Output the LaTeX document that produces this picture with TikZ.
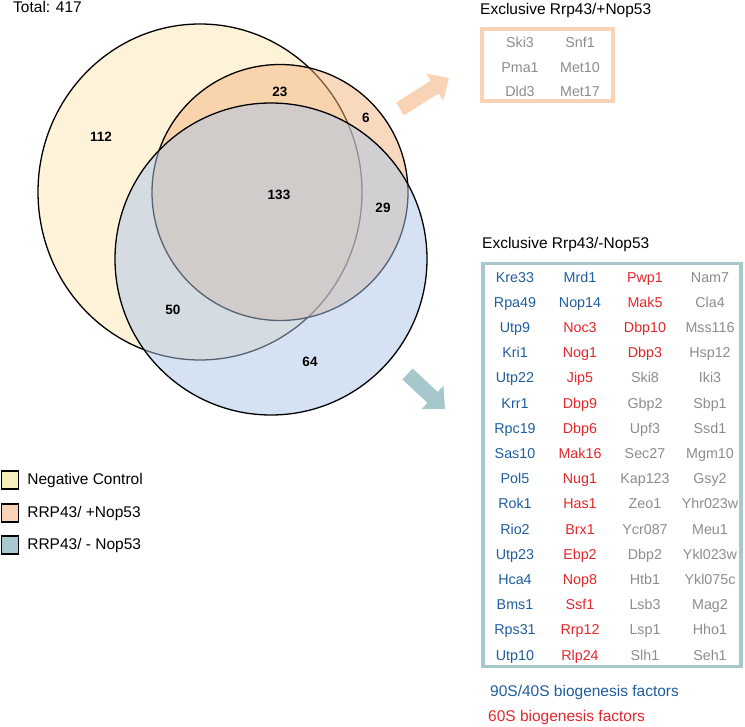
\documentclass[tikz,border=0pt]{standalone}
\usepackage{fontspec}
\setmainfont{Liberation Sans}
\usetikzlibrary{arrows.meta,positioning}
\definecolor{negfill}{HTML}{FDE7B3}
\definecolor{plusfill}{HTML}{F3B37D}
\definecolor{minusfill}{HTML}{ABC5E9}
\definecolor{negkey}{HTML}{F7EFBA}
\definecolor{pluskey}{HTML}{FAD2B6}
\definecolor{minuskey}{HTML}{A8C9D0}
\definecolor{plusline}{HTML}{F9D3B5}
\definecolor{minusline}{HTML}{A6C8CD}
\definecolor{bio40}{HTML}{1F5D9E}
\definecolor{bio60}{HTML}{E3262A}
\definecolor{other}{HTML}{8C8C8C}
\begin{document}
\begin{tikzpicture}[x=1pt, y=-1pt,
  every node/.style={font=\fontsize{15.5}{18}\selectfont, inner sep=0pt, text height=11pt, text depth=3pt},
  num/.style={font=\fontsize{13.5}{15}\selectfont\bfseries, text height=10pt, text depth=0pt},
  gene/.style={font=\fontsize{14.3}{17}\selectfont, text height=10.2pt, text depth=0pt},
  venn/.style={draw, line width=1.3pt, fill opacity=0.5},
  key/.style={draw, line width=1.3pt, minimum width=17pt, minimum height=18pt, text height=, text depth=},
  genebox/.style={draw, line width=3.5pt},
  bigarrow/.style={line width=15pt, -{Triangle[width=31pt,length=17pt]}}]
\useasboundingbox (0,0) rectangle (745,727);

% venn diagram
\draw[venn, fill=negfill] (200,192) ellipse [x radius=162pt, y radius=168pt];
\draw[venn, fill=plusfill] (280,192.5) circle [radius=128pt];
\draw[venn, fill=minusfill] (271,259) circle [radius=156pt];

\node[anchor=west] (total) at (13,9) {Total: 417};
\node[num] (n112) at (101,137) {112};
\node[num] (n23) at (280,92) {23};
\node[num] (n6) at (366,118) {6};
\node[num] (n133) at (279,195) {133};
\node[num] (n29) at (383,208) {29};
\node[num] (n50) at (173,310) {50};
\node[num] (n64) at (310,362) {64};

% legend
\node[key, fill=negkey] (kneg) at (10,480) {};
\node[key, fill=pluskey] (kplus) at (10,513) {};
\node[key, fill=minuskey] (kminus) at (10,545) {};
\node[right=8pt of kneg] (lneg) {Negative Control};
\node[right=8pt of kplus] (lplus) {RRP43/ +Nop53};
\node[right=8pt of kminus] (lminus) {RRP43/ - Nop53};

% arrows
\coordinate (plustail) at (400,109);
\coordinate (plustip) at (449,78);
\coordinate (minustail) at (407.5,374);
\coordinate (minustip) at (445,409);
\draw[bigarrow, plusline] (plustail) -- (plustip);
\draw[bigarrow, minusline] (minustail) -- (minustip);

% exclusive +Nop53
\node[anchor=west] (plustitle) at (480,11) {Exclusive Rrp43/+Nop53};
\node[genebox, plusline, minimum width=131pt, minimum height=72pt, text height=, text depth=] (plusbox) at (547.5,65) {};
\node[gene, text=other] (p1) at (520,42) {Ski3};
\node[gene, text=other] (p2) at (580,42) {Snf1};
\node[gene, text=other] (p3) at (520,67) {Pma1};
\node[gene, text=other] (p4) at (580,67) {Met10};
\node[gene, text=other] (p5) at (520,91) {Dld3};
\node[gene, text=other] (p6) at (580,91) {Met17};

% exclusive -Nop53
\node[anchor=west] (minustitle) at (482,245) {Exclusive Rrp43/-Nop53};
\node[genebox, minusline, minimum width=258pt, minimum height=403pt, text height=, text depth=] (minusbox) at (612,465) {};
\foreach \g/\c [count=\i] in {Kre33/bio40, Rpa49/bio40, Utp9/bio40, Kri1/bio40, Utp22/bio40, Krr1/bio40, Rpc19/bio40, Sas10/bio40, Pol5/bio40, Rok1/bio40, Rio2/bio40, Utp23/bio40, Hca4/bio40, Bms1/bio40, Rps31/bio40, Utp10/bio40}
  \node[gene, text=\c] (a\i) at (515,{277+25.2*(\i-1)}) {\g};
\foreach \g/\c [count=\i] in {Mrd1/bio40, Nop14/bio40, Noc3/bio60, Nog1/bio60, Jip5/bio60, Dbp9/bio60, Dbp6/bio60, Mak16/bio60, Nug1/bio60, Has1/bio60, Brx1/bio60, Ebp2/bio60, Nop8/bio60, Ssf1/bio60, Rrp12/bio60, Rlp24/bio60}
  \node[gene, text=\c] (b\i) at (580,{277+25.2*(\i-1)}) {\g};
\foreach \g/\c [count=\i] in {Pwp1/bio60, Mak5/bio60, Dbp10/bio60, Dbp3/bio60, Ski8/other, Gbp2/other, Upf3/other, Sec27/other, Kap123/other, Zeo1/other, Ycr087/other, Dbp2/other, Htb1/other, Lsb3/other, Lsp1/other, Slh1/other}
  \node[gene, text=\c] (c\i) at (645,{277+25.2*(\i-1)}) {\g};
\foreach \g/\c [count=\i] in {Nam7/other, Cla4/other, Mss116/other, Hsp12/other, Iki3/other, Sbp1/other, Ssd1/other, Mgm10/other, Gsy2/other, Yhr023w/other, Meu1/other, Ykl023w/other, Ykl075c/other, Mag2/other, Hho1/other, Seh1/other}
  \node[gene, text=\c] (d\i) at (710,{277+25.2*(\i-1)}) {\g};

\node[anchor=west, text=bio40] (f40) at (490,692) {90S/40S biogenesis factors};
\node[anchor=west, text=bio60] (f60) at (488,717) {60S biogenesis factors};
\end{tikzpicture}
\end{document}
